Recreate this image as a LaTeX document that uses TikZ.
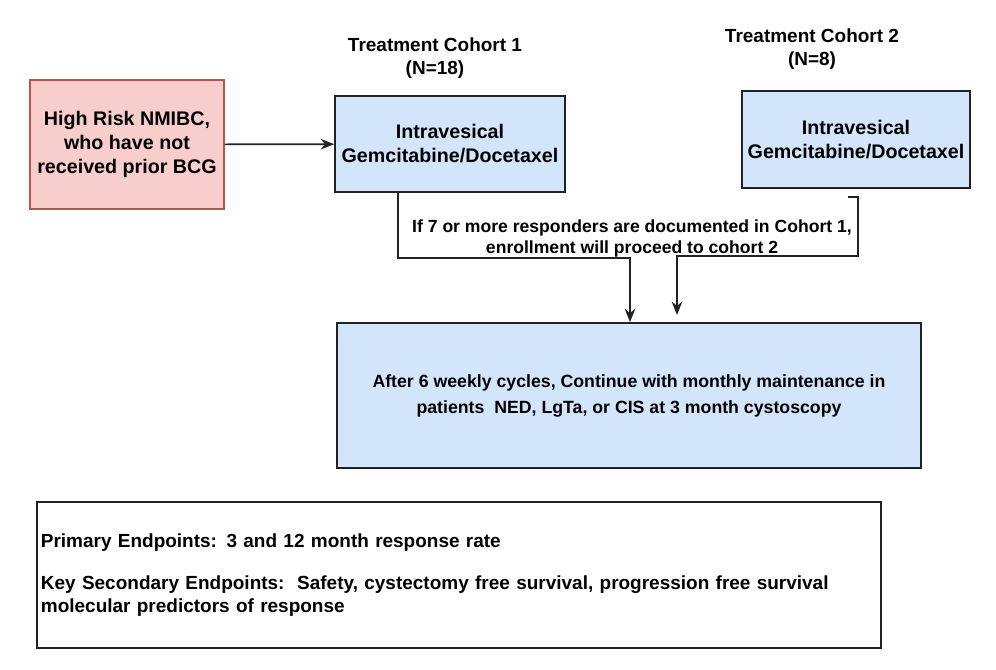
\documentclass[tikz,border=0pt]{standalone}
\usepackage{fontspec}
\setmainfont{Liberation Sans}
\usepackage{xcolor}
\usepackage{tikz}
\usetikzlibrary{
  arrows.meta,
  positioning,
}
\definecolor{riskred}{HTML}{F8CECC}
\definecolor{riskline}{HTML}{B85450}
\definecolor{armblue}{HTML}{D3E5FA}
\definecolor{inkline}{HTML}{222222}

\begin{document}
\begin{tikzpicture}[
    x=0.025cm, y=-0.025cm,
    box/.style={rectangle, draw=inkline, line width=1.2pt, align=center,
                font=\bfseries\fontsize{14}{17}\selectfont},
    riskbox/.style={box, draw=riskline, fill=riskred},
    armbox/.style={box, fill=armblue},
    heading/.style={align=center, font=\bfseries\fontsize{13.5}{16.5}\selectfont},
    flow/.style={-{Stealth[length=9.5pt, width=7.5pt]}, line width=1.2pt, draw=inkline},
  ]
  \useasboundingbox[fill=white] (0,0) rectangle (996,670);

  \node[riskbox, minimum width=4.85cm, minimum height=3.225cm] (risk) at (127,144.5)
    {High Risk NMIBC,\\who have not\\received prior BCG};
  \node[armbox, minimum width=5.75cm, minimum height=2.4cm] (cohortA) at (450,144)
    {Intravesical\\Gemcitabine/Docetaxel};
  \node[armbox, minimum width=5.7cm, minimum height=2.425cm] (cohortB) at (856,139.5)
    {Intravesical\\Gemcitabine/Docetaxel};
  \node[heading] (titleA) at (435,58) {Treatment Cohort 1\\(N=18)};
  \node[heading] (titleB) at (812,49) {Treatment Cohort 2\\(N=8)};

  \node[armbox, minimum width=14.6cm, minimum height=3.625cm,
        font=\bfseries\fontsize{12.6}{18.5}\selectfont] (maint) at (629,395.5)
    {After 6 weekly cycles, Continue with monthly maintenance in\\
     patients\ \ NED, LgTa, or CIS at 3 month cystoscopy};
  \node[align=center, font=\bfseries\fontsize{12.5}{15}\selectfont] (cond) at (632,238.5)
    {If 7 or more responders are documented in Cohort 1,\\
     enrollment will proceed to cohort 2};

  \node[box, minimum width=21.1cm, minimum height=3.65cm, align=left,
        text width=20.9cm, inner xsep=0pt,
        font=\bfseries\fontsize{13.5}{16.4}\selectfont] (endpoints) at (459,575)
    {Primary Endpoints: 3 and 12 month response rate\\[14pt]
     Key Secondary Endpoints:\ \ Safety, cystectomy free survival, progression free survival\\
     molecular predictors of response};

  % connectors
  \coordinate (bendA) at (630,258);
  \coordinate (tapB) at (848,197);
  \coordinate (cornerB) at (858,256);
  \coordinate (bendB) at (677,256);
  \coordinate (tipB) at (677,315);

  \draw[flow] (risk) -- (cohortA);
  \draw[flow] ([xshift=-1.3cm]cohortA.south) |- (bendA) -- (bendA |- maint.north);
  \draw[flow] (tapB) -| (cornerB) -- (bendB) -- (tipB);
\end{tikzpicture}
\end{document}
